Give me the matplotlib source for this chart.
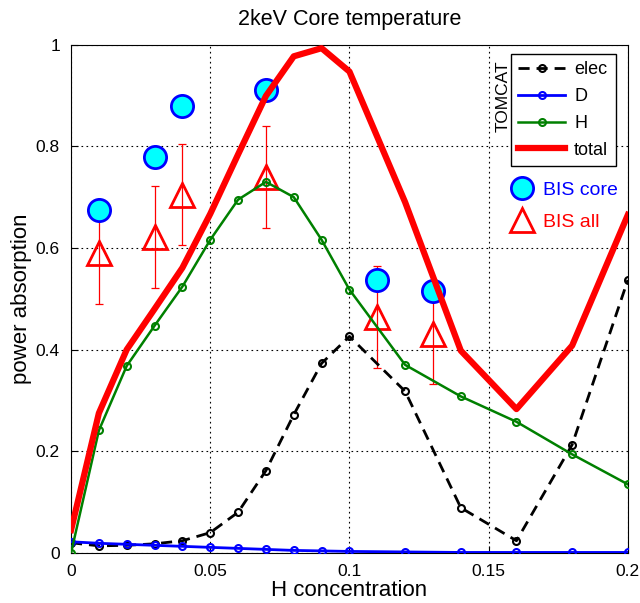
import numpy as np
import matplotlib.pyplot as plt
from matplotlib.lines import Line2D

plt.rcParams['font.family'] = ['Liberation Sans', 'DejaVu Sans']

# TOMCAT model results
h_conc = [0, 0.01, 0.02, 0.03, 0.04, 0.05, 0.06, 0.07, 0.08, 0.09, 0.1,
          0.12, 0.14, 0.16, 0.18, 0.2]
elec = [0.020, 0.014, 0.015, 0.018, 0.024, 0.040, 0.080, 0.162, 0.272, 0.373,
        0.426, 0.318, 0.089, 0.024, 0.213, 0.537]
deut = [0.022, 0.019, 0.017, 0.015, 0.013, 0.011, 0.009, 0.007, 0.005, 0.004,
        0.003, 0.002, 0.001, 0.001, 0.001, 0.001]
hydr = [0.000, 0.241, 0.368, 0.447, 0.524, 0.616, 0.695, 0.730, 0.700, 0.616,
        0.518, 0.370, 0.308, 0.258, 0.194, 0.135]
total = [0.045, 0.275, 0.400, 0.480, 0.561, 0.667, 0.784, 0.899, 0.977, 0.993,
         0.947, 0.690, 0.398, 0.283, 0.408, 0.665]

# BIS measurements
bis_x = [0.01, 0.03, 0.04, 0.07, 0.11, 0.13]
bis_core = [0.675, 0.779, 0.880, 0.910, 0.537, 0.516]
bis_all = [0.590, 0.622, 0.705, 0.740, 0.464, 0.430]
bis_err = [0.100, 0.100, 0.100, 0.100, 0.100, 0.097]

fig = plt.figure(figsize=(6.4, 6.03), dpi=100)
ax = fig.add_axes([0.111, 0.083, 0.870, 0.843])

# BIS points
ax.errorbar(bis_x, bis_all, yerr=bis_err, fmt='none', ecolor='red',
            elinewidth=0.9, capsize=3, capthick=0.9, zorder=2)
ax.plot(bis_x, bis_all, '^', color='red', mfc='none', ms=17, mew=2, zorder=3)
ax.plot(bis_x, bis_core, 'o', color='blue', mfc='cyan', ms=16, mew=2,
        zorder=2)

# model lines
l_elec, = ax.plot(h_conc, elec, '--o', color='black', lw=2, ms=5, mfc='none',
                  mew=1.5, zorder=4, label='elec', dashes=(4, 2.5))
l_d, = ax.plot(h_conc, deut, '-o', color='blue', lw=2, ms=5, mfc='none',
               mew=1.5, zorder=4, label='D')
l_h, = ax.plot(h_conc, hydr, '-o', color='green', lw=1.8, ms=5, mfc='none',
               mew=1.5, zorder=4, label='H')
l_tot, = ax.plot(h_conc, total, '-', color='red', lw=4.5, zorder=5,
                 label='total')

ax.set_xlim(0, 0.2)
ax.set_ylim(0, 1)
ax.set_xticks([0, 0.05, 0.1, 0.15, 0.2])
ax.set_xticklabels(['0', '0.05', '0.1', '0.15', '0.2'])
ax.set_yticks([0, 0.2, 0.4, 0.6, 0.8, 1])
ax.set_yticklabels(['0', '0.2', '0.4', '0.6', '0.8', '1'])
ax.tick_params(direction='in', length=5, labelsize=12.5, pad=8)
ax.grid(True, color='black', linestyle=(0, (1.5, 3)), linewidth=0.8)

ax.set_title('2keV Core temperature', fontsize=15.5, pad=14)
ax.set_xlabel('H concentration', fontsize=16, labelpad=1)
ax.set_ylabel('power absorption', fontsize=16, labelpad=3)

leg = ax.legend(handles=[l_elec, l_d, l_h, l_tot], loc='upper right',
                bbox_to_anchor=(0.978, 0.982), borderaxespad=0, fontsize=13,
                handlelength=2.6, fancybox=False, edgecolor='black',
                framealpha=1, borderpad=0.4, labelspacing=0.55,
                handletextpad=0.5)
leg.get_frame().set_linewidth(1)
ax.add_artist(leg)
ax.text(0.776, 0.898, 'TOMCAT', transform=ax.transAxes, rotation=90,
        ha='center', va='center', fontsize=12.5, zorder=10)

bis_handles = [Line2D([], [], marker='o', ls='none', color='blue',
                      mfc='cyan', ms=16, mew=2),
               Line2D([], [], marker='^', ls='none', color='red',
                      mfc='none', ms=17, mew=2)]
ax.legend(bis_handles, ['BIS core', 'BIS all'], loc='upper right',
          bbox_to_anchor=(1.0, 0.75), frameon=False, fontsize=14,
          labelcolor=['blue', 'red'], handletextpad=0.1, labelspacing=0.75,
          borderaxespad=0.1)

fig.savefig('out.png', dpi=100)
